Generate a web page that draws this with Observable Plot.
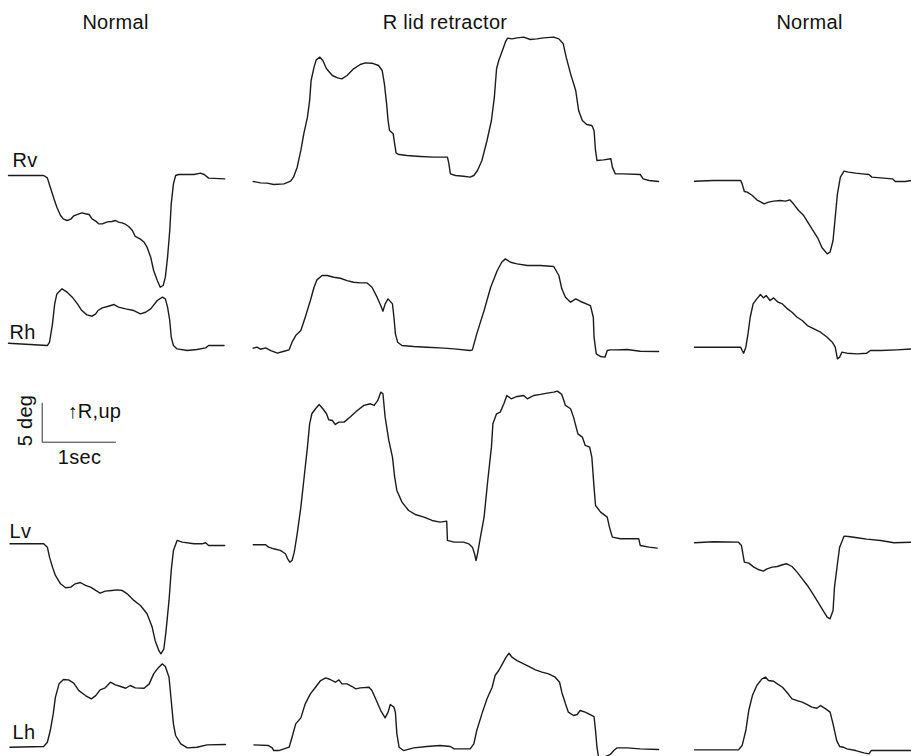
<!DOCTYPE html>
<html>
<head>
<meta charset="utf-8">
<script src="https://cdn.jsdelivr.net/npm/d3@7"></script>
<script src="https://cdn.jsdelivr.net/npm/@observablehq/plot@0.6"></script>
<style>
  html, body { margin: 0; padding: 0; background: #fff; }
</style>
</head>
<body>
<div id="chart"></div>
<script>
// ---------------- DATA (time in s from panel start, deflection in deg from row baseline) ----------------
const columns = ["Normal", "R lid retractor", "Normal"];
const rows = ["Rv", "Rh", "Lv", "Lh"];
const scaleDeg = 5;     // vertical calibration bar, deg
const scaleSec = 1;     // horizontal calibration bar, s
const scaleLabels = ["5 deg", "\u2191R,up", "1sec"];

// Column 1: Normal
const normal1_Rv = [[0,0],[0.48,0],[0.53,-0.30],[0.57,-1.50],[0.62,-2.99],[0.66,-4.06],[0.71,-5.13],[0.75,-5.60],[0.80,-5.77],[0.85,-5.60],[0.89,-5.17],[0.96,-4.91],[1.00,-4.79],[1.05,-4.91],[1.10,-5.00],[1.14,-5.56],[1.19,-5.85],[1.23,-6.20],[1.28,-6.20],[1.35,-5.94],[1.41,-5.90],[1.46,-5.77],[1.50,-5.98],[1.55,-6.07],[1.60,-6.28],[1.64,-6.54],[1.69,-7.05],[1.73,-7.82],[1.80,-8.16],[1.85,-8.55],[1.89,-9.19],[1.94,-10.47],[1.98,-12.18],[2.03,-13.46],[2.07,-14.32],[2.11,-14.10],[2.14,-13.03],[2.17,-10.47],[2.20,-7.05],[2.22,-3.63],[2.25,-1.07],[2.28,0],[2.32,0.13],[2.53,0.13],[2.62,0.30],[2.67,0.13],[2.73,-0.34],[2.95,-0.43]];
const normal1_Rh = [[0,0],[0.53,-0.30],[0.56,0.13],[0.60,2.48],[0.63,5.04],[0.66,6.32],[0.73,6.97],[0.80,6.54],[0.87,5.90],[0.94,5.04],[1.00,4.19],[1.07,3.63],[1.14,3.46],[1.19,3.76],[1.22,4.19],[1.28,4.53],[1.35,4.70],[1.44,4.96],[1.50,4.62],[1.60,4.40],[1.71,4.19],[1.80,3.76],[1.87,3.97],[1.94,4.40],[2.03,5.47],[2.10,5.90],[2.14,5.68],[2.17,4.62],[2.20,2.91],[2.22,0.77],[2.25,-0.30],[2.30,-0.73],[2.44,-0.94],[2.57,-0.81],[2.69,-0.60],[2.73,-0.30],[2.94,-0.30]];
const normal1_Lv = [[0.02,0],[0.48,0],[0.53,-0.43],[0.56,-1.71],[0.60,-2.99],[0.64,-4.06],[0.71,-5.13],[0.78,-5.64],[0.85,-5.56],[0.91,-5.13],[0.98,-4.96],[1.05,-5.34],[1.12,-5.56],[1.19,-5.98],[1.25,-6.32],[1.32,-6.07],[1.41,-5.98],[1.48,-5.90],[1.55,-5.98],[1.62,-6.41],[1.71,-7.26],[1.80,-7.91],[1.89,-8.97],[1.96,-10.68],[2.00,-12.39],[2.05,-13.68],[2.08,-14.10],[2.12,-13.46],[2.15,-11.11],[2.19,-7.26],[2.22,-3.42],[2.25,-0.85],[2.30,0.43],[2.37,0.21],[2.53,0],[2.64,0],[2.69,0.13],[2.73,-0.21],[2.95,-0.21]];
const normal1_Lh = [[0.02,0],[0.48,0.09],[0.53,0.64],[0.57,2.14],[0.61,4.27],[0.64,6.41],[0.69,8.12],[0.75,8.68],[0.82,8.63],[0.89,8.21],[0.96,7.26],[1.05,6.62],[1.13,6.20],[1.19,6.62],[1.25,7.35],[1.32,7.61],[1.39,8.33],[1.46,7.99],[1.53,7.78],[1.60,7.56],[1.66,7.91],[1.73,7.61],[1.85,7.56],[1.92,8.12],[1.98,9.40],[2.05,10.26],[2.10,10.68],[2.14,10.34],[2.19,8.97],[2.22,5.98],[2.25,2.99],[2.28,1.50],[2.35,0.43],[2.44,-0.09],[2.57,0],[2.71,0.30],[2.96,0.34]];

// Column 2: R lid retractor
const lid_Rv = [[0,-0.77],[0.10,-0.94],[0.19,-0.98],[0.28,-1.15],[0.42,-1.07],[0.51,-0.73],[0.55,-0.21],[0.60,1.07],[0.65,3.21],[0.69,5.34],[0.74,7.48],[0.77,9.62],[0.79,12.18],[0.83,13.89],[0.86,14.83],[0.91,15.17],[0.95,14.74],[1.00,13.68],[1.08,12.82],[1.15,12.52],[1.21,12.39],[1.28,12.82],[1.37,13.68],[1.46,14.23],[1.53,14.44],[1.62,14.40],[1.71,14.10],[1.76,13.46],[1.79,11.75],[1.82,9.19],[1.84,7.05],[1.86,5.77],[1.91,5.34],[1.93,4.06],[1.95,2.86],[1.99,2.69],[2.10,2.56],[2.28,2.44],[2.46,2.35],[2.65,2.35],[2.67,1.50],[2.69,0.21],[2.76,0],[2.87,-0.09],[2.96,-0.21],[3.01,0],[3.06,0.64],[3.12,1.92],[3.19,4.49],[3.25,7.05],[3.29,10.04],[3.32,13.68],[3.35,14.74],[3.40,16.03],[3.44,17.09],[3.47,17.61],[3.53,17.52],[3.60,17.65],[3.69,17.74],[3.78,17.44],[3.87,17.52],[3.96,17.65],[4.10,17.74],[4.17,17.52],[4.23,16.88],[4.27,15.17],[4.33,13.03],[4.40,10.90],[4.44,8.33],[4.49,7.05],[4.55,6.54],[4.62,6.41],[4.65,5.77],[4.67,3.21],[4.69,1.92],[4.78,2.01],[4.88,2.14],[4.90,1.07],[4.94,0.21],[5.05,0.21],[5.28,0.13],[5.32,-0.43],[5.40,-0.64],[5.53,-0.77]];
const lid_Rh = [[0,-0.64],[0.05,-0.51],[0.10,-0.77],[0.17,-0.60],[0.24,-0.94],[0.33,-1.28],[0.42,-1.03],[0.49,-0.85],[0.53,0.13],[0.58,0.98],[0.65,1.62],[0.71,3.33],[0.78,5.47],[0.83,7.18],[0.87,8.12],[0.94,8.68],[1.01,8.68],[1.10,8.46],[1.19,8.33],[1.28,8.03],[1.37,7.82],[1.46,7.74],[1.55,7.74],[1.62,7.18],[1.69,5.90],[1.74,4.83],[1.77,4.10],[1.80,5.04],[1.84,5.68],[1.90,5.04],[1.92,3.33],[1.94,1.20],[1.97,0.13],[2.03,-0.30],[2.19,-0.43],[2.37,-0.51],[2.55,-0.60],[2.74,-0.73],[2.96,-0.94],[2.99,-0.85],[3.05,1.20],[3.15,4.19],[3.24,7.18],[3.33,9.32],[3.39,10.38],[3.44,10.81],[3.51,10.38],[3.60,10.17],[3.74,9.96],[3.92,9.96],[4.10,9.83],[4.17,8.68],[4.21,6.97],[4.26,5.90],[4.33,5.26],[4.40,5.68],[4.46,5.38],[4.60,4.83],[4.64,3.33],[4.65,0.77],[4.68,-1.37],[4.74,-1.71],[4.80,-1.79],[4.83,-0.94],[4.87,-0.85],[4.96,-0.85],[5.10,-0.81],[5.28,-1.03],[5.53,-1.07]];
const lid_Lv = [[0,-0.13],[0.17,-0.13],[0.21,-0.43],[0.28,-0.64],[0.37,-0.85],[0.44,-1.28],[0.47,-1.92],[0.50,-2.35],[0.53,-2.14],[0.56,-1.07],[0.60,1.28],[0.65,4.70],[0.69,8.12],[0.74,12.39],[0.77,15.38],[0.80,16.67],[0.85,17.31],[0.90,17.86],[0.95,17.31],[1.00,16.67],[1.03,15.90],[1.08,15.81],[1.12,15.30],[1.17,15.60],[1.24,15.60],[1.33,16.32],[1.42,17.09],[1.51,17.74],[1.60,17.95],[1.65,17.74],[1.70,18.38],[1.74,19.44],[1.77,19.23],[1.80,16.24],[1.85,13.25],[1.90,11.11],[1.93,8.55],[1.96,6.84],[2.03,5.34],[2.12,4.27],[2.21,3.76],[2.33,3.42],[2.44,2.99],[2.55,2.78],[2.64,2.91],[2.65,0.43],[2.74,0.21],[2.87,0.21],[2.94,0],[2.99,-0.43],[3.02,-1.28],[3.04,-2.14],[3.06,-1.28],[3.10,0.85],[3.15,3.42],[3.20,8.12],[3.25,12.39],[3.27,15.38],[3.32,16.67],[3.37,16.88],[3.42,17.95],[3.46,19.02],[3.52,18.59],[3.60,18.89],[3.69,19.02],[3.74,18.59],[3.83,19.02],[3.92,19.15],[4.01,19.32],[4.10,19.44],[4.15,19.57],[4.21,19.15],[4.26,17.74],[4.33,17.31],[4.37,16.24],[4.43,14.10],[4.49,13.68],[4.53,12.61],[4.59,12.39],[4.62,11.11],[4.65,7.26],[4.67,4.91],[4.74,4.06],[4.83,3.42],[4.86,2.14],[4.90,0.85],[5.01,0.64],[5.17,0.64],[5.26,0.64],[5.28,-0.21],[5.40,-0.43],[5.51,-0.56]];
const lid_Lh = [[0.01,0.30],[0.21,0.21],[0.26,-0.09],[0.28,-0.43],[0.35,-0.43],[0.42,-0.21],[0.49,0],[0.53,1.28],[0.58,2.99],[0.65,3.76],[0.71,5.56],[0.78,6.84],[0.85,7.69],[0.92,8.55],[0.99,8.89],[1.05,8.68],[1.12,8.33],[1.17,8.63],[1.21,8.12],[1.28,8.12],[1.35,7.78],[1.40,7.48],[1.46,7.61],[1.58,7.69],[1.62,7.26],[1.67,6.20],[1.74,4.70],[1.80,3.76],[1.84,4.49],[1.87,5.47],[1.92,5.13],[1.94,4.49],[1.96,1.71],[1.99,0],[2.05,-0.43],[2.19,-0.09],[2.37,0.09],[2.55,0.21],[2.69,0.09],[2.74,-0.21],[2.96,-0.21],[3.01,0.43],[3.05,2.14],[3.12,4.27],[3.19,6.20],[3.26,7.69],[3.30,9.19],[3.35,9.83],[3.40,10.68],[3.45,11.54],[3.49,12.05],[3.53,11.54],[3.60,11.11],[3.67,10.77],[3.71,10.60],[3.78,10.26],[3.85,9.91],[3.94,9.62],[4.03,9.40],[4.12,8.97],[4.18,8.33],[4.21,7.05],[4.26,5.56],[4.30,4.49],[4.37,4.06],[4.42,4.19],[4.46,4.70],[4.53,4.49],[4.65,3.93],[4.67,2.14],[4.69,0],[4.71,-1.20],[4.72,-2.14],[4.76,-1.37],[4.87,-0.94],[4.92,-0.43],[4.96,-0.09],[5.10,-0.09],[5.28,-0.21],[5.53,-0.30]];

// Column 3: Normal
const normal2_Rv = [[0,-0.73],[0.26,-0.64],[0.63,-0.64],[0.65,-1.07],[0.68,-2.05],[0.72,-2.14],[0.79,-2.56],[0.85,-3.12],[0.95,-3.63],[1.01,-3.42],[1.08,-3.29],[1.17,-3.21],[1.24,-3.29],[1.30,-3.12],[1.35,-3.63],[1.42,-4.49],[1.49,-5.13],[1.56,-6.20],[1.63,-7.26],[1.68,-7.99],[1.74,-9.27],[1.81,-10.04],[1.85,-9.83],[1.89,-8.33],[1.92,-5.34],[1.95,-2.35],[1.99,-0.21],[2.04,0.56],[2.10,0.43],[2.20,0.30],[2.29,0.21],[2.38,0.13],[2.42,-0.21],[2.54,-0.30],[2.70,-0.43],[2.74,-0.77],[2.88,-0.77],[2.96,-0.64]];
const normal2_Rh = [[0,-0.51],[0.31,-0.51],[0.63,-0.51],[0.65,-0.94],[0.67,-1.28],[0.70,-0.51],[0.73,1.20],[0.76,3.33],[0.80,5.04],[0.85,5.68],[0.90,6.24],[0.94,5.81],[0.98,6.11],[1.03,5.47],[1.08,5.81],[1.14,5.26],[1.20,5.04],[1.27,4.40],[1.33,3.97],[1.40,3.33],[1.47,2.91],[1.54,2.26],[1.63,1.84],[1.72,1.41],[1.81,0.77],[1.88,0.13],[1.92,-0.51],[1.95,-2.01],[1.98,-1.79],[2.01,-1.15],[2.08,-1.28],[2.22,-1.37],[2.35,-1.28],[2.40,-0.94],[2.54,-0.94],[2.76,-0.85],[2.96,-0.73]];
const normal2_Lv = [[0,0.13],[0.26,0.26],[0.60,0.21],[0.64,-0.21],[0.66,-1.28],[0.68,-2.35],[0.74,-2.48],[0.81,-2.99],[0.88,-3.33],[0.94,-3.50],[0.99,-3.21],[1.06,-2.99],[1.13,-2.91],[1.20,-2.69],[1.26,-2.56],[1.33,-2.91],[1.40,-3.63],[1.47,-4.49],[1.54,-5.34],[1.60,-6.20],[1.67,-7.26],[1.74,-8.33],[1.81,-9.40],[1.85,-9.62],[1.89,-8.55],[1.91,-5.56],[1.95,-2.56],[1.98,-0.43],[2.04,0.98],[2.10,0.94],[2.22,0.77],[2.35,0.60],[2.54,0.43],[2.72,0.13],[2.96,0.21]];
const normal2_Lh = [[0,-0.34],[0.26,-0.34],[0.60,-0.34],[0.65,0.21],[0.70,2.14],[0.74,4.70],[0.79,6.62],[0.85,7.91],[0.92,8.76],[0.97,8.97],[1.01,8.55],[1.08,8.46],[1.13,8.12],[1.20,7.69],[1.26,7.05],[1.33,6.20],[1.40,5.98],[1.47,5.77],[1.54,5.47],[1.60,5.13],[1.67,5.00],[1.72,5.34],[1.79,4.91],[1.85,4.49],[1.89,2.99],[1.94,0.85],[1.98,0.09],[2.03,0],[2.08,-0.21],[2.20,-0.43],[2.31,-0.73],[2.38,-0.85],[2.41,-0.43],[2.54,-0.43],[2.96,-0.43]];

// ---------------- LAYOUT ----------------
const W = 911, H = 756;
const PX_PER_SEC = 73.3, PX_PER_DEG = 7.8;   // from the calibration bars
const sec = px => px / PX_PER_SEC;
const dg = py => (H - py) / PX_PER_DEG;

const colStart = [8, 252.7, 694].map(sec);
const rowBase = [175, 342.7, 543.3, 746.7].map(dg);

const traces = [
  [0, 0, normal1_Rv], [0, 1, normal1_Rh], [0, 2, normal1_Lv], [0, 3, normal1_Lh],
  [1, 0, lid_Rv], [1, 1, lid_Rh], [1, 2, lid_Lv], [1, 3, lid_Lh],
  [2, 0, normal2_Rv], [2, 1, normal2_Rh], [2, 2, normal2_Lv], [2, 3, normal2_Lh]
];
const flat = [];
traces.forEach(([c, r, arr], i) => {
  for (const [t, v] of arr) flat.push({id: i, x: colStart[c] + t, y: rowBase[r] + v});
});

const titleX = [115, 444.5, 809].map(sec);
const titleY = dg(28);
const titles = columns.map((s, i) => ({x: titleX[i], y: titleY, s}));

const rowLabelX = [12, 9, 9, 12].map(sec);
const rowLabelY = [166, 338, 537, 738].map(dg);
const rowLabels = rows.map((s, i) => ({x: rowLabelX[i], y: rowLabelY[i], s}));

// calibration bar
const barT = sec(41.7), barV = dg(441.7);
const bar = [[barT, barV + scaleDeg], [barT, barV], [barT + scaleSec, barV]];

const plot = Plot.plot({
  width: W, height: H,
  margin: 0,
  x: {domain: [0, W / PX_PER_SEC], range: [0, W], axis: null},
  y: {domain: [0, H / PX_PER_DEG], range: [H, 0], axis: null},
  style: {fontFamily: "'Liberation Sans', Arial, sans-serif", background: "#fff", letterSpacing: "0.3px"},
  marks: [
    Plot.line(flat, {x: "x", y: "y", z: "id", stroke: "#1b1b1b", strokeWidth: 1.4, strokeLinejoin: "round"}),
    Plot.line(bar, {x: d => d[0], y: d => d[1], stroke: "#333", strokeWidth: 1}),
    Plot.text(titles, {x: "x", y: "y", text: "s", fontSize: 20, fill: "#111", lineAnchor: "bottom", textAnchor: "middle"}),
    Plot.text(rowLabels, {x: "x", y: "y", text: "s", fontSize: 20, fill: "#111", lineAnchor: "bottom", textAnchor: "start", letterSpacing: 1}),
    Plot.text([{x: sec(25), y: dg(420), s: scaleLabels[0]}], {x: "x", y: "y", text: "s", fontSize: 20, fill: "#111", rotate: -90, textAnchor: "middle", lineAnchor: "middle"}),
    Plot.text([{x: sec(67), y: dg(417), s: scaleLabels[1]}], {x: "x", y: "y", text: "s", fontSize: 20, fill: "#111", textAnchor: "start", lineAnchor: "bottom"}),
    Plot.text([{x: sec(79), y: dg(463), s: scaleLabels[2]}], {x: "x", y: "y", text: "s", fontSize: 20, fill: "#111", textAnchor: "middle", lineAnchor: "bottom"})
  ]
});
document.getElementById("chart").appendChild(plot);
</script>
</body>
</html>
